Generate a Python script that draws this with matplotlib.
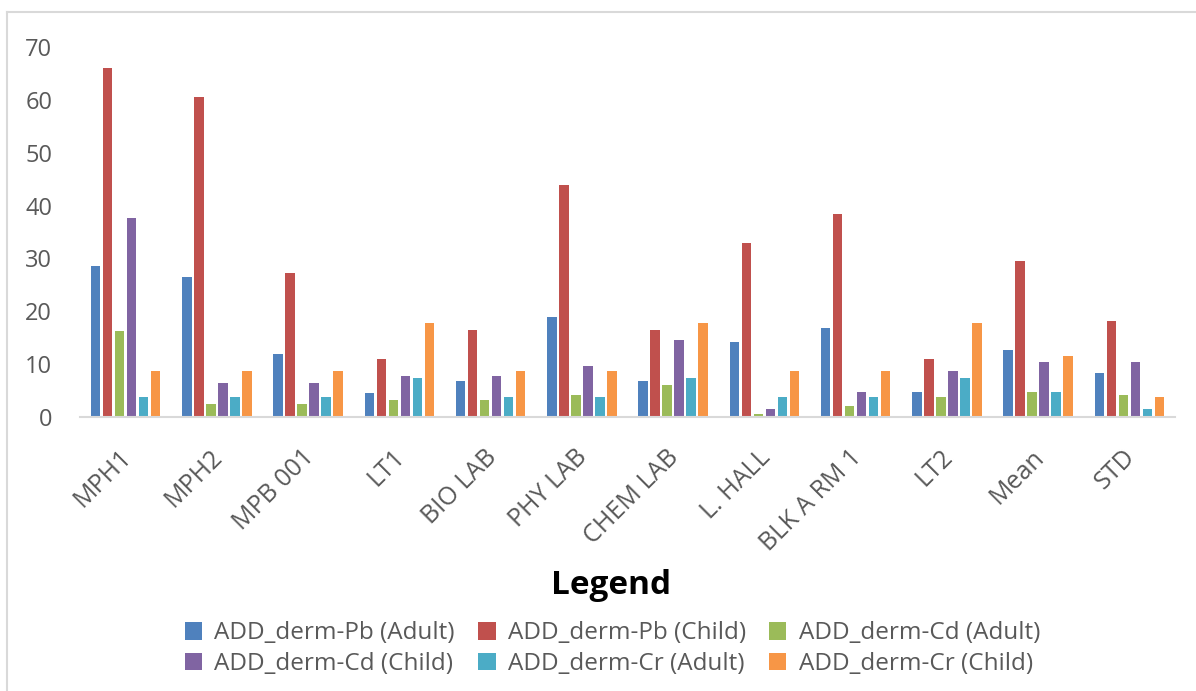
import matplotlib.pyplot as plt
import numpy as np
from matplotlib.lines import Line2D

plt.rcParams['font.family'] = ['Open Sans', 'DejaVu Sans']

# locais amostrados + estatisticas
locations = ['MPH1', 'MPH2', 'MPB 001', 'LT1', 'BIO LAB', 'PHY LAB', 'CHEM LAB',
             'L. HALL', 'BLK A RM 1', 'LT2', 'Mean', 'STD']

series_names = ['ADD_derm-Pb (Adult)', 'ADD_derm-Pb (Child)', 'ADD_derm-Cd (Adult)',
                'ADD_derm-Cd (Child)', 'ADD_derm-Cr (Adult)', 'ADD_derm-Cr (Child)']

pb_adult = [28.6, 26.4, 11.9, 4.6, 6.9, 19.0, 6.9, 14.1, 16.8, 4.7, 12.7, 8.3]
pb_child = [66.0, 60.6, 27.2, 10.9, 16.4, 43.9, 16.4, 33.0, 38.5, 11.0, 29.5, 18.2]
cd_adult = [16.3, 2.4, 2.4, 3.2, 3.3, 4.2, 6.0, 0.5, 2.0, 3.7, 4.7, 4.2]
cd_child = [37.6, 6.5, 6.5, 7.8, 7.8, 9.6, 14.6, 1.5, 4.7, 8.7, 10.5, 10.5]
cr_adult = [3.7, 3.7, 3.7, 7.3, 3.8, 3.8, 7.3, 3.7, 3.7, 7.3, 4.7, 1.5]
cr_child = [8.8, 8.8, 8.8, 17.7, 8.8, 8.8, 17.7, 8.7, 8.7, 17.7, 11.5, 3.7]

colors = ['#4F81BD', '#C0504D', '#9BBB59', '#8064A2', '#4BACC6', '#F79646']
text_gray = '#595959'


def plotChart():
    fig = plt.figure(figsize=(11.96, 6.91), dpi=100)
    ax = fig.add_axes([0.0669, 0.3965, 0.9155, 0.5355])

    all_series = [pb_adult, pb_child, cd_adult, cd_child, cr_adult, cr_child]
    x = np.arange(len(locations))
    step = 0.1315
    handles = []
    for i, (values, color) in enumerate(zip(all_series, colors)):
        bars = ax.bar(x + (i - 2.5) * step, values, width=0.104, color=color,
                      label=series_names[i])
        handles.append(bars)

    ax.set_xlim(-0.5, len(locations) - 0.5)
    ax.set_ylim(0, 70)
    ax.set_yticks(range(0, 71, 10))
    ax.tick_params(axis='y', length=0, pad=20, labelsize=17, labelcolor=text_gray)
    # rotulos inclinados, deslocados um pouco para a direita do centro do grupo
    ax.set_xticks(x + 0.12)
    ax.set_xticklabels(locations, rotation=45, ha='right')
    ax.tick_params(axis='x', length=0, pad=20, labelsize=18, labelcolor=text_gray)

    for side in ['top', 'right', 'left']:
        ax.spines[side].set_visible(False)
    ax.spines['bottom'].set_color('#D9D9D9')
    ax.spines['bottom'].set_linewidth(1.5)

    # titulo da legenda
    fig.text(0.511, 1 - 585 / 691, 'Legend', ha='center', va='center',
             fontsize=24, fontweight='bold', color='black')

    # legenda em ordem de linha (3 colunas)
    order = [0, 3, 1, 4, 2, 5]
    leg = fig.legend([handles[k] for k in order], [series_names[k] for k in order],
                     loc='upper center', bbox_to_anchor=(0.512, 1 - 609 / 691),
                     ncol=3, frameon=False, fontsize=17.5,
                     handlelength=0.72, handleheight=0.75, handletextpad=0.5,
                     columnspacing=0.95, labelspacing=0.28, borderpad=0)
    for txt in leg.get_texts():
        txt.set_color(text_gray)

    # moldura cinza (topo e esquerda)
    fig.add_artist(Line2D([0.00585, 1.0], [0.9826, 0.9826], color='#D9D9D9', lw=1.5))
    fig.add_artist(Line2D([0.00585, 0.00585], [0.0, 0.9826], color='#D9D9D9', lw=1.5))

    fig.savefig('out.png', dpi=100)


if __name__ == "__main__":
    plotChart()
